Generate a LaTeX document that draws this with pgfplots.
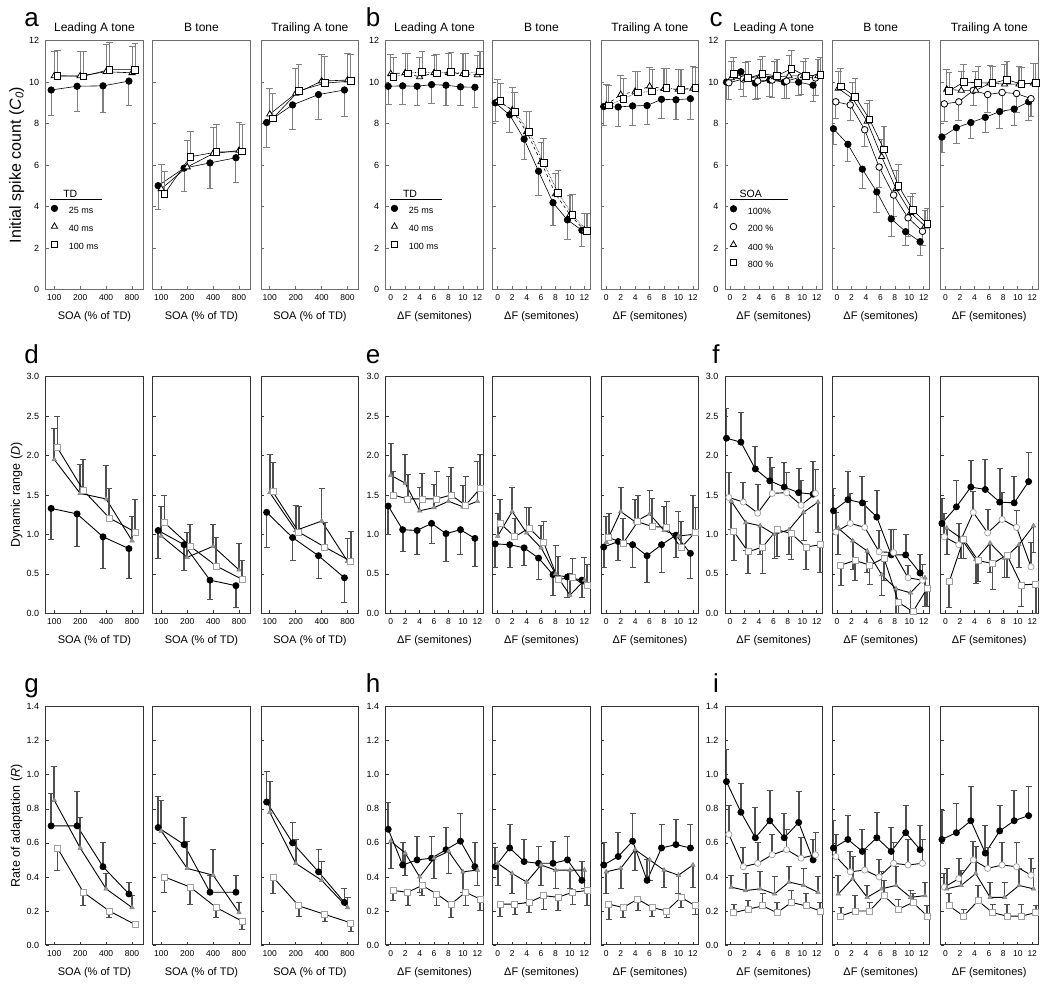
\documentclass[border=0pt]{standalone}
\usepackage{fontspec}
\setmainfont{Liberation Sans}
\usepackage{pgfplots}
\usepackage{pgfplotstable}
\pgfplotsset{compat=1.18}
\definecolor{cAxA}{HTML}{6E6E6E}
\definecolor{cAxB}{HTML}{333333}
\definecolor{cEbA}{HTML}{808080}
\definecolor{cEbB}{HTML}{505050}
\definecolor{cTri}{HTML}{9A9A9A}
\definecolor{cEdge}{HTML}{A0A0A0}

% ---------- Row 1: initial spike count ----------
\pgfplotstableread{
x c ce t te s se
0 9.62 1.22 10.30 1.20 10.30 1.25
1 9.80 1.20 10.30 1.20 10.28 1.22
2 9.82 1.27 10.50 1.30 10.60 1.30
3 10.05 1.20 10.45 1.25 10.60 1.25
}\Taone
\pgfplotstableread{
x c ce t te s se
0 5.00 1.15 4.85 1.20 4.60 1.10
1 5.85 1.15 5.90 1.30 6.40 1.20
2 6.10 1.25 6.55 1.25 6.62 1.33
3 6.35 1.20 6.70 1.35 6.65 1.30
}\Tatwo
\pgfplotstableread{
x c ce t te s se
0 8.05 1.20 8.45 1.25 8.25 1.20
1 8.90 1.18 9.45 1.20 9.58 1.27
2 9.40 1.20 10.05 1.30 9.95 1.30
3 9.62 1.27 10.10 1.30 10.05 1.30
}\Tathree
\pgfplotstableread{
x c ce t te s se
0 9.80 0.90 10.40 0.95 10.25 0.95
2 9.82 0.90 10.45 0.95 10.42 0.98
4 9.80 0.93 10.25 0.95 10.50 1.00
6 9.88 0.93 10.45 0.85 10.42 0.90
8 9.85 0.98 10.45 0.95 10.48 0.97
10 9.77 0.92 10.40 1.00 10.42 0.98
12 9.75 0.95 10.35 0.95 10.52 0.98
}\Tbone
\pgfplotstableread{
x c ce t te s se
0 9.00 0.90 9.10 1.05 9.08 0.87
2 8.42 0.87 8.65 1.10 8.55 0.95
4 7.25 1.00 7.60 1.00 7.60 1.00
6 5.70 1.15 6.15 0.95 6.10 1.20
8 4.18 1.08 4.60 1.00 4.65 1.10
10 3.35 0.95 3.60 0.95 3.60 1.00
12 2.85 0.80 2.85 0.80 2.82 0.83
}\Tbtwo
\pgfplotstableread{
x c ce t te s se
0 8.82 0.92 8.90 1.00 8.88 0.97
2 8.80 0.95 9.40 0.90 9.20 1.00
4 8.85 0.93 9.55 0.95 9.50 1.00
6 8.87 0.92 9.80 0.90 9.55 1.05
8 9.17 0.92 9.68 1.00 9.72 0.96
10 9.15 0.93 9.65 0.95 9.62 1.00
12 9.20 0.98 9.70 1.05 9.72 1.00
}\Tbthree
\pgfplotstableread{
x c ce o oe t te s se
0 10.00 0.85 9.97 0.80 10.20 0.80 10.40 0.80
2 10.50 0.85 10.15 0.85 10.15 0.80 10.20 0.80
4 9.95 0.80 10.05 0.85 10.30 0.80 10.40 0.85
6 10.10 0.80 10.10 0.85 10.25 0.75 10.30 0.80
8 10.00 0.80 10.05 0.85 10.30 1.00 10.65 0.90
10 10.00 0.65 10.25 0.85 10.30 0.70 10.30 0.85
12 9.85 0.80 10.20 0.85 10.30 0.80 10.35 0.85
}\Tcone
\pgfplotstableread{
x c ce o oe t te s se
0 7.75 0.75 9.05 0.80 9.70 0.80 9.80 0.85
2 7.00 0.85 8.90 0.75 9.20 0.80 9.30 0.90
4 5.80 0.95 7.70 0.80 8.10 0.85 8.20 0.90
6 4.70 1.00 5.90 1.00 6.40 0.85 6.75 1.10
8 3.40 0.85 4.55 1.05 4.85 0.90 5.00 1.05
10 2.78 0.68 3.45 0.90 3.70 0.80 3.82 0.83
12 2.30 0.65 2.80 0.70 3.05 0.75 3.15 0.75
}\Tctwo
\pgfplotstableread{
x c ce o oe t te s se
0 7.35 0.75 8.95 0.85 9.65 0.95 9.58 0.87
2 7.80 0.75 9.05 0.90 9.60 0.90 10.00 0.85
4 8.05 0.75 9.60 0.75 9.60 0.90 9.97 0.78
6 8.30 0.75 9.40 0.85 9.95 0.85 9.95 0.83
8 8.58 0.83 9.50 0.90 9.90 0.95 10.12 0.88
10 8.70 0.80 9.45 0.90 9.90 0.85 9.90 0.80
12 9.05 0.90 9.20 0.85 9.95 0.95 9.97 0.93
}\Tcthree

% ---------- Row 2: dynamic range ----------
\pgfplotstableread{
x c ce t te s se
0 1.33 0.40 1.95 0.39 2.10 0.39
1 1.26 0.41 1.52 0.37 1.56 0.39
2 0.97 0.40 1.45 0.42 1.21 0.37
3 0.82 0.38 0.92 0.31 1.03 0.41
}\Tdone
\pgfplotstableread{
x c ce t te s se
0 1.05 0.36 0.98 0.37 1.15 0.34
1 0.87 0.33 0.71 0.31 0.85 0.27
2 0.42 0.25 0.85 0.28 0.60 0.36
3 0.35 0.28 0.55 0.34 0.43 0.24
}\Tdtwo
\pgfplotstableread{
x c ce t te s se
0 1.28 0.44 1.53 0.48 1.54 0.37
1 0.96 0.29 1.05 0.32 1.03 0.32
2 0.73 0.29 1.17 0.41 0.84 0.31
3 0.45 0.31 0.66 0.29 0.66 0.38
}\Tdthree
\pgfplotstableread{
x c ce t te s se
0 1.36 0.36 1.75 0.40 1.50 0.30
2 1.06 0.28 1.65 0.36 1.45 0.31
4 1.05 0.31 1.30 0.30 1.45 0.32
6 1.14 0.26 1.34 0.29 1.45 0.35
8 1.01 0.35 1.42 0.32 1.50 0.35
10 1.06 0.31 1.35 0.27 1.37 0.37
12 0.95 0.36 1.42 0.50 1.58 0.43
}\Teone
\pgfplotstableread{
x c ce t te s se
0 0.88 0.30 0.98 0.29 1.14 0.30
2 0.87 0.29 1.29 0.30 0.97 0.23
4 0.83 0.23 1.02 0.32 1.08 0.26
6 0.70 0.27 0.83 0.28 0.90 0.26
8 0.49 0.27 0.50 0.36 0.43 0.29
10 0.46 0.26 0.23 0.28 0.45 0.25
12 0.42 0.22 0.42 0.29 0.35 0.27
}\Tetwo
\pgfplotstableread{
x c ce t te s se
0 0.84 0.26 0.90 0.33 0.96 0.30
2 0.91 0.24 1.29 0.30 0.89 0.31
4 0.87 0.29 1.16 0.28 1.16 0.33
6 0.73 0.34 1.26 0.30 1.10 0.36
8 0.87 0.35 1.05 0.30 1.09 0.33
10 0.99 0.28 0.98 0.31 0.83 0.33
12 0.76 0.32 1.00 0.49 1.03 0.31
}\Tethree
\pgfplotstableread{
x c ce o oe t te s se
0 2.22 0.38 1.47 0.31 1.42 0.36 1.04 0.37
2 2.17 0.38 1.41 0.25 1.15 0.36 0.78 0.27
4 1.83 0.29 1.27 0.36 1.11 0.36 0.84 0.34
6 1.68 0.29 1.52 0.33 1.00 0.30 1.06 0.34
8 1.60 0.31 1.53 0.25 1.06 0.32 1.01 0.33
10 1.53 0.31 1.37 0.31 1.28 0.36 0.84 0.29
12 1.51 0.42 1.52 0.30 1.41 0.39 0.87 0.35
}\Tfone
\pgfplotstableread{
x c ce o oe t te s se
0 1.30 0.28 1.03 0.25 1.08 0.33 0.61 0.26
2 1.44 0.36 1.14 0.38 0.92 0.37 0.67 0.25
4 1.40 0.34 1.09 0.33 0.79 0.27 0.61 0.25
6 1.22 0.34 0.78 0.27 0.49 0.26 0.70 0.28
8 0.74 0.32 0.77 0.29 0.31 0.31 0.14 0.14
10 0.74 0.26 0.45 0.15 0.26 0.26 0.02 0.02
12 0.51 0.24 0.42 0.20 0.45 0.36 0.32 0.23
}\Tftwo
\pgfplotstableread{
x c ce o oe t te s se
0 1.14 0.31 0.97 0.29 1.08 0.33 0.40 0.33
2 1.35 0.33 0.87 0.27 0.95 0.25 0.94 0.24
4 1.60 0.34 1.28 0.27 0.68 0.30 0.67 0.27
6 1.57 0.38 1.02 0.29 0.89 0.37 0.63 0.33
8 1.41 0.42 1.19 0.34 0.70 0.25 0.74 0.29
10 1.40 0.34 1.09 0.21 0.87 0.29 0.36 0.27
12 1.67 0.37 0.59 0.31 1.11 0.34 0.37 0.37
}\Tfthree

% ---------- Row 3: rate of adaptation ----------
\pgfplotstableread{
x c ce t te s se
0 0.70 0.19 0.85 0.20 0.57 0.13
1 0.70 0.20 0.57 0.18 0.31 0.08
2 0.46 0.14 0.33 0.09 0.20 0.04
3 0.30 0.07 0.22 0.07 0.12 0.02
}\Tgone
\pgfplotstableread{
x c ce t te s se
0 0.69 0.18 0.67 0.18 0.40 0.09
1 0.59 0.16 0.45 0.16 0.34 0.10
2 0.31 0.10 0.41 0.15 0.22 0.06
3 0.31 0.10 0.19 0.06 0.14 0.05
}\Tgtwo
\pgfplotstableread{
x c ce t te s se
0 0.84 0.18 0.78 0.18 0.40 0.10
1 0.60 0.12 0.48 0.14 0.23 0.06
2 0.43 0.13 0.38 0.11 0.18 0.04
3 0.25 0.08 0.22 0.06 0.13 0.05
}\Tgthree
\pgfplotstableread{
x c ce t te s se
0 0.68 0.16 0.61 0.16 0.32 0.06
2 0.47 0.13 0.54 0.13 0.31 0.08
4 0.50 0.14 0.40 0.09 0.35 0.06
6 0.51 0.13 0.51 0.12 0.30 0.07
8 0.56 0.13 0.55 0.13 0.24 0.08
10 0.61 0.16 0.43 0.12 0.31 0.08
12 0.46 0.14 0.44 0.09 0.27 0.07
}\Thone
\pgfplotstableread{
x c ce t te s se
0 0.46 0.11 0.48 0.13 0.24 0.07
2 0.57 0.14 0.42 0.12 0.24 0.06
4 0.49 0.13 0.37 0.12 0.25 0.06
6 0.48 0.10 0.47 0.12 0.29 0.08
8 0.48 0.13 0.44 0.11 0.28 0.08
10 0.50 0.14 0.44 0.11 0.31 0.07
12 0.38 0.11 0.44 0.11 0.32 0.09
}\Thtwo
\pgfplotstableread{
x c ce t te s se
0 0.47 0.13 0.43 0.13 0.24 0.09
2 0.52 0.14 0.45 0.12 0.22 0.06
4 0.61 0.16 0.56 0.12 0.27 0.07
6 0.38 0.12 0.50 0.12 0.22 0.05
8 0.57 0.14 0.44 0.10 0.20 0.04
10 0.59 0.15 0.41 0.11 0.28 0.06
12 0.57 0.14 0.47 0.13 0.23 0.05
}\Ththree
\pgfplotstableread{
x c ce o oe t te s se
0 0.96 0.19 0.65 0.17 0.34 0.07 0.19 0.05
2 0.78 0.17 0.46 0.11 0.32 0.10 0.21 0.05
4 0.63 0.18 0.48 0.12 0.33 0.10 0.23 0.07
6 0.73 0.18 0.53 0.12 0.30 0.10 0.19 0.06
8 0.63 0.14 0.56 0.12 0.37 0.09 0.25 0.07
10 0.72 0.18 0.51 0.12 0.35 0.10 0.23 0.07
12 0.50 0.12 0.53 0.13 0.31 0.09 0.20 0.05
}\Tione
\pgfplotstableread{
x c ce o oe t te s se
0 0.57 0.16 0.52 0.13 0.30 0.11 0.17 0.05
2 0.62 0.14 0.43 0.12 0.39 0.13 0.20 0.09
4 0.55 0.13 0.44 0.12 0.28 0.07 0.20 0.05
6 0.63 0.15 0.40 0.10 0.33 0.10 0.29 0.09
8 0.55 0.14 0.48 0.12 0.35 0.11 0.21 0.06
10 0.66 0.16 0.47 0.15 0.28 0.04 0.25 0.05
12 0.56 0.14 0.48 0.14 0.29 0.08 0.17 0.06
}\Titwo
\pgfplotstableread{
x c ce o oe t te s se
0 0.62 0.17 0.34 0.08 0.33 0.12 0.23 0.07
2 0.66 0.17 0.39 0.12 0.35 0.09 0.17 0.04
4 0.73 0.20 0.50 0.11 0.42 0.16 0.26 0.09
6 0.54 0.16 0.45 0.12 0.28 0.09 0.19 0.05
8 0.67 0.15 0.47 0.13 0.28 0.09 0.17 0.07
10 0.73 0.18 0.46 0.14 0.35 0.10 0.17 0.07
12 0.76 0.17 0.41 0.10 0.33 0.12 0.19 0.04
}\Tithree

\pgfplotsset{
  panel/.style={scale only axis, width=97.5pt, anchor=south west,
    tick align=inside, xtick pos=bottom, ytick pos=left, major tick length=3pt,
    xticklabel style={font=\fontsize{8.5}{9.5}\selectfont, yshift=-2pt},
    yticklabel style={font=\fontsize{9}{10}\selectfont, xshift=-3pt},
    /pgf/number format/assume math mode=true,
    title style={font=\fontsize{12}{14}\selectfont, at={(axis description cs:0.5,1)}, anchor=base, yshift=3.5pt},
    xlabel style={font=\fontsize{11}{13}\selectfont, at={(axis description cs:0.5,0)}, anchor=center, yshift=-27.5pt},
    ylabel style={font=\fontsize{12.5}{14}\selectfont, at={(axis description cs:-0.297,0.5)}, anchor=center}},
  soa/.style={xmin=-0.33, xmax=3.43, xtick={0,1,2,3}, xticklabels={100,200,400,800}, xlabel={SOA (\% of TD)}},
  df/.style={xmin=-0.7, xmax=12.8, xtick={0,2,4,6,8,10,12}, xlabel={ΔF (semitones)}},
  ra/.style={height=248.6pt, ymin=0, ymax=12, ytick={0,2,4,6,8,10,12},
    axis line style={cAxA, line width=1pt}, tick style={cAxA, line width=0.6pt}},
  rb/.style={height=236.6pt, ymin=0, ymax=3, ytick={0,0.5,1,1.5,2,2.5,3},
    yticklabel style={/pgf/number format/fixed, /pgf/number format/fixed zerofill, /pgf/number format/precision=1},
    axis line style={cAxB, line width=1pt}, tick style={cAxB, line width=0.6pt}},
  rc/.style={height=238.3pt, ymin=0, ymax=1.4, ytick={0,0.2,0.4,0.6,0.8,1.0,1.2,1.4},
    yticklabel style={/pgf/number format/fixed, /pgf/number format/fixed zerofill, /pgf/number format/precision=1},
    axis line style={cAxB, line width=1pt}, tick style={cAxB, line width=0.6pt}},
  noyl/.style={yticklabels={}},
  ebA/.style={error bars/y dir=#1, error bars/y explicit,
    error bars/error bar style={cEbA, line width=1.1pt, solid},
    error bars/error mark options={rotate=90, cEbA, mark size=3.3pt, line width=0.9pt, solid}},
  ebB/.style={error bars/y dir=#1, error bars/y explicit,
    error bars/error bar style={cEbB, line width=1.7pt, solid},
    error bars/error mark options={rotate=90, cEbB, mark size=3pt, line width=1pt, solid}},
  mAc/.style={black, line width=0.6pt, mark=*, mark size=3.3pt, mark options={solid, fill=black, draw=black}},
  mAo/.style={black, line width=0.6pt, mark=*, mark size=3.3pt, mark options={solid, fill=white, draw=black, line width=0.8pt}},
  mAt/.style={black, line width=0.6pt, mark=triangle*, mark size=3.6pt, mark options={solid, fill=white, draw=black, line width=0.8pt}},
  mAs/.style={black, line width=0.6pt, mark=square*, mark size=3.3pt, mark options={solid, fill=white, draw=black, line width=0.8pt}},
  mBc/.style={black, line width=0.9pt, mark=*, mark size=3pt, mark options={solid, fill=black, draw=black}},
  mBo/.style={black, line width=0.9pt, mark=*, mark size=3.1pt, mark options={solid, fill=white, draw=cEdge, line width=0.7pt}},
  mBt/.style={black, line width=0.9pt, mark=triangle*, mark size=2.6pt, mark options={solid, fill=cTri, draw=cTri!80!black, line width=0.5pt}},
  mBs/.style={black, line width=0.9pt, mark=square*, mark size=3pt, mark options={solid, fill=white, draw=cEdge, line width=0.7pt}},
  leg/.style={legend style={at={(axis description cs:#1)}, anchor=north west, draw=none, fill=none,
      inner sep=0pt, font=\fontsize{9}{10}\selectfont, row sep=7.6pt, column sep=11pt,
      nodes={inner sep=0pt, text depth=0.15em}},
    legend cell align=left,
    legend image code/.code={\draw[##1] plot coordinates {(0pt,3pt)};}},
}

% #1 table, #2 offset, #3 marker set, #4 errorbar set, #5-#7 directions, #8 #9 extra line styles
\newcommand{\threeS}[9]{%
  \addplot[m#3c, #4=#5] table[x expr=\thisrow{x}-#2, y=c, y error=ce] {#1};
  \addplot[m#3t, #4=#6, #8] table[x expr=\thisrow{x}, y=t, y error=te] {#1};
  \addplot[m#3s, #4=#7, #9] table[x expr=\thisrow{x}+#2, y=s, y error=se] {#1};
}
% #1 table, #2 marker set, #3 errorbar set, #4-#7 directions
\newcommand{\four}[7]{%
  \addplot[m#2c, #3=#4] table[x expr=\thisrow{x}-0.5, y=c, y error=ce] {#1};
  \addplot[m#2o, #3=#5] table[x expr=\thisrow{x}-0.17, y=o, y error=oe] {#1};
  \addplot[m#2t, #3=#6] table[x expr=\thisrow{x}+0.17, y=t, y error=te] {#1};
  \addplot[m#2s, #3=#7] table[x expr=\thisrow{x}+0.5, y=s, y error=se] {#1};
}

\begin{document}
\begin{tikzpicture}
\path[use as bounding box] (0,0) rectangle (1050pt,993pt);

% ===== Row 1 =====
\begin{axis}[panel, ra, soa, at={(45.7pt,703.7pt)}, title={Leading A tone},
  ylabel={Initial spike count (\textit{C}\textsubscript{\textit{0}})},
  ylabel style={font=\fontsize{16}{18}\selectfont}, leg={0.054,0.3395}]
\threeS{\Taone}{0.12}{A}{ebA}{minus}{plus}{plus}{}{}
\legend{25 ms, 40 ms, 100 ms}
\end{axis}
\begin{axis}[panel, ra, soa, noyl, at={(152.7pt,703.7pt)}, title={B tone}]
\threeS{\Tatwo}{0.12}{A}{ebA}{minus}{plus}{plus}{}{}
\end{axis}
\begin{axis}[panel, ra, soa, noyl, at={(261.2pt,703.7pt)}, title={Trailing A tone}]
\threeS{\Tathree}{0.12}{A}{ebA}{minus}{plus}{plus}{}{}
\end{axis}

\begin{axis}[panel, ra, df, at={(385.7pt,703.7pt)}, title={Leading A tone}, leg={0.054,0.3395}]
\threeS{\Tbone}{0.35}{A}{ebA}{minus}{plus}{plus}{dashed}{densely dotted}
\legend{25 ms, 40 ms, 100 ms}
\end{axis}
\begin{axis}[panel, ra, df, noyl, at={(492.7pt,703.7pt)}, title={B tone}]
\threeS{\Tbtwo}{0.35}{A}{ebA}{minus}{plus}{plus}{dashed}{densely dotted}
\end{axis}
\begin{axis}[panel, ra, df, noyl, at={(601.2pt,703.7pt)}, title={Trailing A tone}]
\threeS{\Tbthree}{0.35}{A}{ebA}{minus}{plus}{plus}{dashed}{densely dotted}
\end{axis}

\begin{axis}[panel, ra, df, at={(725pt,703.7pt)}, title={Leading A tone}, leg={0.051,0.338}]
\four{\Tcone}{A}{ebA}{minus}{minus}{plus}{plus}
\legend{100\%, 200 \%, 400 \%, 800 \%}
\end{axis}
\begin{axis}[panel, ra, df, noyl, at={(832pt,703.7pt)}, title={B tone}]
\four{\Tctwo}{A}{ebA}{minus}{minus}{plus}{plus}
\end{axis}
\begin{axis}[panel, ra, df, noyl, at={(940.5pt,703.7pt)}, title={Trailing A tone}]
\four{\Tcthree}{A}{ebA}{minus}{minus}{plus}{plus}
\end{axis}

% ===== Row 2 =====
\begin{axis}[panel, rb, soa, at={(45.7pt,379.7pt)}, ylabel={Dynamic range (\textit{D})}]
\threeS{\Tdone}{0.12}{B}{ebB}{minus}{plus}{plus}{}{}
\end{axis}
\begin{axis}[panel, rb, soa, noyl, at={(152.7pt,379.7pt)}]
\threeS{\Tdtwo}{0.12}{B}{ebB}{minus}{plus}{plus}{}{}
\end{axis}
\begin{axis}[panel, rb, soa, noyl, at={(261.2pt,379.7pt)}]
\threeS{\Tdthree}{0.12}{B}{ebB}{minus}{plus}{plus}{}{}
\end{axis}

\begin{axis}[panel, rb, df, at={(385.7pt,379.7pt)}]
\threeS{\Teone}{0.35}{B}{ebB}{minus}{plus}{plus}{}{}
\end{axis}
\begin{axis}[panel, rb, df, noyl, at={(492.7pt,379.7pt)}]
\threeS{\Tetwo}{0.35}{B}{ebB}{minus}{plus}{plus}{}{}
\end{axis}
\begin{axis}[panel, rb, df, noyl, at={(601.2pt,379.7pt)}]
\threeS{\Tethree}{0.35}{B}{ebB}{minus}{plus}{plus}{}{}
\end{axis}

\begin{axis}[panel, rb, df, at={(725pt,379.7pt)}]
\four{\Tfone}{B}{ebB}{plus}{plus}{minus}{minus}
\end{axis}
\begin{axis}[panel, rb, df, noyl, at={(832pt,379.7pt)}]
\four{\Tftwo}{B}{ebB}{plus}{plus}{minus}{minus}
\end{axis}
\begin{axis}[panel, rb, df, noyl, at={(940.5pt,379.7pt)}]
\four{\Tfthree}{B}{ebB}{plus}{plus}{minus}{minus}
\end{axis}

% ===== Row 3 =====
\begin{axis}[panel, rc, soa, at={(45.7pt,48pt)}, ylabel={Rate of adaptation (\textit{R})}]
\threeS{\Tgone}{0.12}{B}{ebB}{plus}{plus}{minus}{}{}
\end{axis}
\begin{axis}[panel, rc, soa, noyl, at={(152.7pt,48pt)}]
\threeS{\Tgtwo}{0.12}{B}{ebB}{plus}{plus}{minus}{}{}
\end{axis}
\begin{axis}[panel, rc, soa, noyl, at={(261.2pt,48pt)}]
\threeS{\Tgthree}{0.12}{B}{ebB}{plus}{plus}{minus}{}{}
\end{axis}

\begin{axis}[panel, rc, df, at={(385.7pt,48pt)}]
\threeS{\Thone}{0.35}{B}{ebB}{plus}{minus}{minus}{}{}
\end{axis}
\begin{axis}[panel, rc, df, noyl, at={(492.7pt,48pt)}]
\threeS{\Thtwo}{0.35}{B}{ebB}{plus}{minus}{minus}{}{}
\end{axis}
\begin{axis}[panel, rc, df, noyl, at={(601.2pt,48pt)}]
\threeS{\Ththree}{0.35}{B}{ebB}{plus}{minus}{minus}{}{}
\end{axis}

\begin{axis}[panel, rc, df, at={(725pt,48pt)}]
\four{\Tione}{B}{ebB}{plus}{plus}{plus}{plus}
\end{axis}
\begin{axis}[panel, rc, df, noyl, at={(832pt,48pt)}]
\four{\Titwo}{B}{ebB}{plus}{plus}{plus}{plus}
\end{axis}
\begin{axis}[panel, rc, df, noyl, at={(940.5pt,48pt)}]
\four{\Tithree}{B}{ebB}{plus}{plus}{plus}{plus}
\end{axis}

% legend headers
\node[font=\fontsize{10.5}{12}\selectfont, anchor=base] at (70.3pt,795pt) {TD};
\draw[black, line width=1pt] (50pt,793.5pt) -- (102.3pt,793.5pt);
\node[font=\fontsize{10.5}{12}\selectfont, anchor=base] at (410pt,795pt) {TD};
\draw[black, line width=1pt] (390pt,793.5pt) -- (442.3pt,793.5pt);
\node[font=\fontsize{10.5}{12}\selectfont, anchor=base] at (750.8pt,795pt) {SOA};
\draw[black, line width=1pt] (730pt,793.5pt) -- (788.3pt,793.5pt);

% panel letters
\foreach \L/\X/\Y in {a/31.7/966.3, b/373/966.3, c/716/966.3, d/31.7/629.7, e/373/629.7, f/716/629.7, g/31.7/300, h/373/300, i/716/300}
  \node[font=\fontsize{26}{26}\selectfont, anchor=base] at (\X pt,\Y pt) {\L};
\end{tikzpicture}
\end{document}
